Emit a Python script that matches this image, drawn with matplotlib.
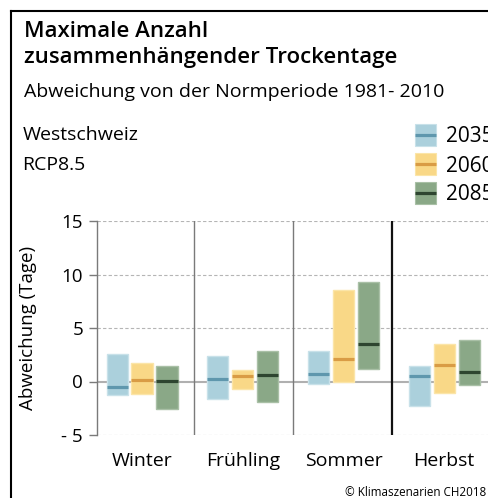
import matplotlib
matplotlib.use("Agg")
import matplotlib.pyplot as plt
from matplotlib.patches import Rectangle
from matplotlib.lines import Line2D
import numpy as np

plt.rcParams['font.family'] = ['Open Sans', 'DejaVu Sans']

seasons = ["Winter", "Frühling", "Sommer", "Herbst"]
periods = ["2035", "2060", "2085"]
low = {
    "2035": [-1.3, -1.65, -0.2, -2.3],
    "2060": [-1.2, -0.7, 0.0, -1.1],
    "2085": [-2.6, -1.9, 1.2, -0.3],
}
high = {
    "2035": [2.6, 2.4, 2.85, 1.45],
    "2060": [1.75, 1.1, 8.55, 3.5],
    "2085": [1.45, 2.85, 9.3, 3.85],
}
median = {
    "2035": [-0.55, 0.2, 0.7, 0.5],
    "2060": [0.15, 0.55, 2.1, 1.5],
    "2085": [0.05, 0.65, 3.5, 0.85],
}
yticks = [-5, 0, 5, 10, 15]
ytick_labels = ["- 5", "0", "5", "10", "15"]

fill_c = {"2035": "#abd0dc", "2060": "#f9d887", "2085": "#8aa887"}
edge_c = {"2035": "#c8e1e9", "2060": "#fbe5a8", "2085": "#a9c0a6"}
med_c = {"2035": "#5f97ad", "2060": "#d99c45", "2085": "#2e4530"}

W, H = 488, 498
fig = plt.figure(figsize=(W / 100, H / 100), dpi=100)

def fx(px):
    return px / W

def fy(py):
    return 1 - py / H

ax = fig.add_axes([fx(97), fy(435), fx(491) - fx(97), fy(221) - fy(435)])
ax.set_xlim(-0.447, 3.465)
ax.set_ylim(-5, 15)

offsets = [-0.248, 0.0, 0.248]
bw = 0.209
x = np.arange(len(seasons))
for p, off in zip(periods, offsets):
    lo = np.array(low[p])
    hi = np.array(high[p])
    ax.bar(x + off, hi - lo, bottom=lo, width=bw, color=fill_c[p],
           edgecolor=edge_c[p], linewidth=1.0, zorder=3)
    for xi, m in zip(x + off, median[p]):
        ax.plot([xi - bw / 2, xi + bw / 2], [m, m], color=med_c[p],
                lw=2.3, solid_capstyle='butt', zorder=4)

# grid
for yv in [5, 10, 15, -5]:
    ax.axhline(yv, color="#b5b5b5", lw=0.8, ls=(0, (3, 2)), zorder=1)
ax.axhline(0, color="#b0b0b0", lw=1.5, zorder=2)
# dividers
ax.axvline(0.52, color="#7a7a7a", lw=1.0, zorder=2)
ax.axvline(1.5, color="#7a7a7a", lw=1.0, zorder=2)
ax.axvline(2.48, color="#111111", lw=1.6, zorder=2)

for s in ["top", "right", "bottom"]:
    ax.spines[s].set_visible(False)
ax.spines["left"].set_color("#7a7a7a")
ax.spines["left"].set_linewidth(1.0)

ax.set_yticks(yticks)
ax.set_yticklabels(ytick_labels, fontsize=13.5)
ax.tick_params(axis="y", length=6, width=1.0, color="#7a7a7a", pad=4)
ax.set_xticks(x)
ax.set_xticklabels(seasons, fontsize=14)
ax.tick_params(axis="x", length=0, pad=12)
ax.set_ylabel("Abweichung (Tage)", fontsize=13.5)
ax.yaxis.set_label_coords((37 - 97) / 394, 0.5)

# frame
fig.add_artist(Line2D([fx(10.5), fx(10.5)], [fy(H + 2), fy(11)],
                      color="black", lw=1.5, transform=fig.transFigure))
fig.add_artist(Line2D([fx(10.5), fx(W + 2)], [fy(11), fy(11)],
                      color="black", lw=1.5, transform=fig.transFigure))

# titles
fig.text(fx(24), fy(37), "Maximale Anzahl", fontsize=16,
         fontweight="semibold", va="baseline", ha="left")
fig.text(fx(24), fy(63.5), "zusammenhängender Trockentage", fontsize=16,
         fontweight="semibold", va="baseline", ha="left")
fig.text(fx(24), fy(97), "Abweichung von der Normperiode 1981- 2010",
         fontsize=14, va="baseline", ha="left")
fig.text(fx(22.5), fy(140), "Westschweiz", fontsize=14,
         va="baseline", ha="left")
fig.text(fx(22.5), fy(170), "RCP8.5", fontsize=14,
         va="baseline", ha="left")

# legend
for i, p in enumerate(periods):
    cy = 135 + 29 * i
    fig.add_artist(Rectangle((fx(414.5), fy(cy + 11)), fx(21), fy(0) - fy(22),
                             facecolor=fill_c[p], edgecolor=edge_c[p], lw=0.8,
                             transform=fig.transFigure))
    fig.add_artist(Line2D([fx(414.5), fx(435.5)], [fy(cy), fy(cy)],
                          color=med_c[p], lw=2.3, solid_capstyle='butt',
                          transform=fig.transFigure))
    fig.text(fx(446), fy(cy + 7.5), p, fontsize=15, va="baseline", ha="left")

fig.text(fx(345), fy(496), "© Klimaszenarien CH2018", fontsize=8.4,
         va="baseline", ha="left")

fig.savefig("out.png", dpi=100)
